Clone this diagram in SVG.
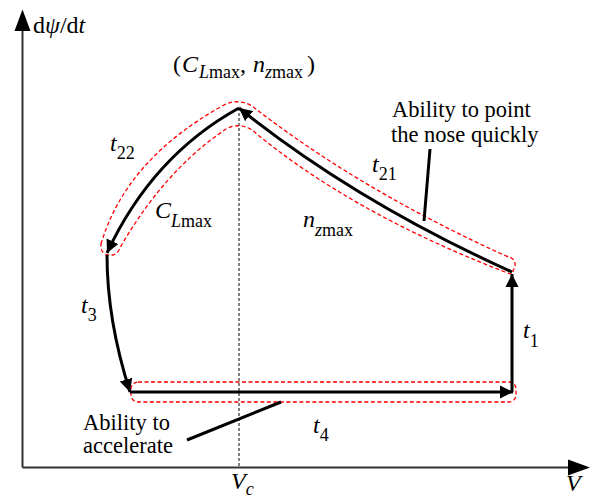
<svg xmlns="http://www.w3.org/2000/svg" width="592" height="500" viewBox="0 0 592 500">
<style>
.ax{stroke:#333;stroke-width:2;fill:none}
.cur{stroke:#000;stroke-width:3;fill:none}
.env{stroke:#ff0000;stroke-width:1.3;stroke-dasharray:4 2.5;fill:none}
text{font-family:'Liberation Serif','Times New Roman',serif;fill:#000}
.lbl{font-size:24px}
.it{font-style:italic}
.sub{font-size:18px}
.note{font-size:22.5px}
</style>
<defs>
<marker id="ah" markerUnits="userSpaceOnUse" markerWidth="14" markerHeight="14" refX="13" refY="7" orient="auto">
<path d="M0,0.5 L13,7 L0,13.5 z" fill="#000"/>
</marker>
</defs>
<g id="axes">
<line class="ax" x1="22.5" y1="467.5" x2="22.5" y2="28"/>
<polygon points="22.5,9.5 14.5,31 30.5,31" fill="#000"/>
<line class="ax" x1="22.5" y1="467.5" x2="570" y2="467.5"/>
<polygon points="590,467.5 568,459.5 568,475.5" fill="#000"/>
<line x1="239" y1="108" x2="239" y2="467" stroke="#000" stroke-width="1" stroke-dasharray="3 2"/>
</g>
<g id="envelopes">
<path class="env" d="M101,244 Q126,159 224,105 Q238,98 252,106 Q360,190 506,256 Q516,258 515,266 L512,274 Q510,274 505,272 Q350,212 252,130 Q239,122 226,129 Q165,170 121,246 Q117,257 108,255 Q100,253 101,244 Z"/>
<rect class="env" x="131" y="382" width="385" height="20" rx="7"/>
</g>
<g id="connectors">
<path class="cur" d="M512,392 L512,274" marker-end="url(#ah)"/>
<path class="cur" d="M512,272 Q355,201 239,108" marker-end="url(#ah)"/>
<path class="cur" d="M239,108 Q152,156 107,253" marker-end="url(#ah)"/>
<path class="cur" d="M107,255 Q107,320 130,392" marker-end="url(#ah)"/>
<path class="cur" d="M130,392 L513,392" marker-end="url(#ah)"/>
<line class="cur" x1="430" y1="149" x2="424" y2="221"/>
<line class="cur" x1="187" y1="440" x2="281" y2="402"/>
</g>
<g id="labels">
<text class="lbl" x="33" y="33">d<tspan class="it">ψ</tspan>/d<tspan class="it">t</tspan></text>
<text class="lbl" x="173" y="72">(<tspan class="it" x="182">C</tspan><tspan class="sub it" dy="6" x="199">L</tspan><tspan class="sub">max</tspan><tspan dy="-6">,</tspan><tspan class="it" x="253">n</tspan><tspan class="sub it" dy="6" x="265">z</tspan><tspan class="sub">max</tspan><tspan dy="-6" x="307">)</tspan></text>
<text class="lbl" x="110" y="151"><tspan class="it">t</tspan><tspan class="sub" dy="8">22</tspan></text>
<text class="lbl" x="155" y="218"><tspan class="it">C</tspan><tspan class="sub it" dy="9">L</tspan><tspan class="sub">max</tspan></text>
<text class="lbl" x="303" y="227"><tspan class="it">n</tspan><tspan class="sub it" dy="9">z</tspan><tspan class="sub">max</tspan></text>
<text class="lbl" x="372" y="172"><tspan class="it">t</tspan><tspan class="sub" dy="8">21</tspan></text>
<text class="lbl" x="81" y="313"><tspan class="it">t</tspan><tspan class="sub" dy="8">3</tspan></text>
<text class="lbl" x="523" y="338"><tspan class="it">t</tspan><tspan class="sub" dy="9">1</tspan></text>
<text class="lbl" x="313" y="433"><tspan class="it">t</tspan><tspan class="sub" dy="8">4</tspan></text>
<text class="lbl it" x="566" y="491">V</text>
<text class="lbl" x="231" y="489"><tspan class="it">V</tspan><tspan class="sub it" dy="6">c</tspan></text>
<text class="note" x="392" y="117">Ability to point</text>
<text class="note" x="391" y="142">the nose quickly</text>
<text class="note" x="83" y="430">Ability to</text>
<text class="note" x="83" y="453">accelerate</text>
</g>
</svg>
